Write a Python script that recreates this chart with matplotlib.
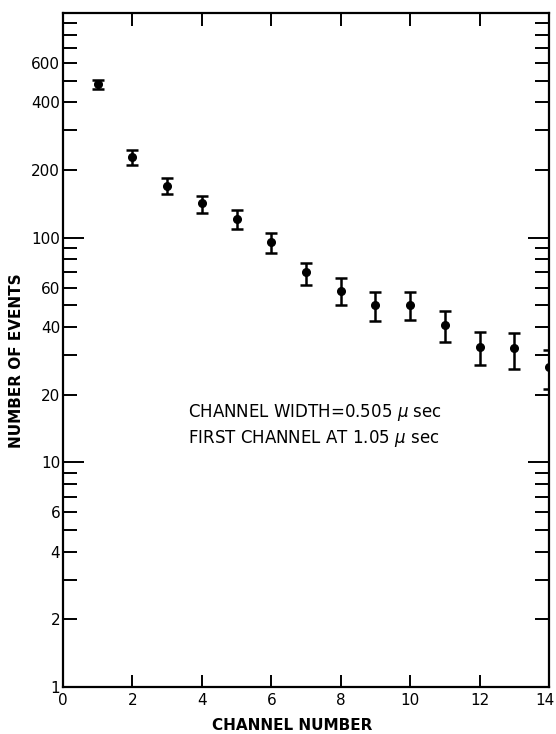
import numpy as np
import matplotlib
matplotlib.use("Agg")
import matplotlib.pyplot as plt
import matplotlib.transforms as mtransforms
from matplotlib.ticker import FixedLocator, FuncFormatter

# 数据：各通道的事件数及误差上下限
channel = [1, 2, 3, 4, 5, 6, 7, 8, 9, 10, 11, 12, 13, 14]
events = [483, 228, 170, 142, 121, 96, 70, 58, 50, 50.4, 40.7, 32.7, 32.2, 26.6]
err_hi = [503, 245, 185, 154, 133, 104.5, 76.8, 65.9, 57.1, 57.1, 47.1, 38.1, 37.5, 31.6]
err_lo = [460, 210, 156, 129, 109, 85.7, 61.5, 50.1, 42.6, 42.8, 34.4, 27.1, 25.9, 21.1]

x_ticks = [0, 2, 4, 6, 8, 10, 12, 14]
y_major = [1, 10, 100]
y_labelled = [2, 4, 6, 20, 40, 60, 200, 400, 600]

plt.rcParams['font.family'] = ['DejaVu Sans']

fig = plt.figure(figsize=(5.56, 7.34), dpi=100)
ax = fig.add_axes([63 / 556, 1 - 687 / 734, 486 / 556, 674 / 734])

ev = np.array(events)
yerr = [ev - np.array(err_lo), np.array(err_hi) - ev]
ax.errorbar(channel, events, yerr=yerr, fmt='o', color='black', ms=5.5,
            elinewidth=1.8, capsize=4, capthick=1.8)

ax.set_yscale('log')
ax.set_xlim(0, 14)
ax.set_ylim(1, 1000)

# 坐标轴刻度
ax.xaxis.set_major_locator(FixedLocator(x_ticks))
ax.set_xticklabels([str(t) for t in x_ticks])
ax.yaxis.set_major_locator(FixedLocator(y_major))
ax.yaxis.set_major_formatter(FuncFormatter(lambda v, p: '%d' % v))
minors = [m * d for d in (1, 10, 100) for m in range(2, 10)]
ax.yaxis.set_minor_locator(FixedLocator(minors))
ax.yaxis.set_minor_formatter(FuncFormatter(
    lambda v, p: '%d' % round(v) if round(v) in y_labelled else ''))

ax.tick_params(axis='x', which='both', direction='in', top=True, length=9,
               width=1.4, labelsize=11, pad=4)
ax.tick_params(axis='y', which='major', direction='in', right=True, length=15,
               width=1.4, labelsize=11, pad=2)
ax.tick_params(axis='y', which='minor', direction='in', right=True, length=10,
               width=1.4, labelsize=11, pad=2)

# 最右边的 "14" 稍微左移，避免被裁掉
lab = ax.get_xticklabels()[-1]
lab.set_transform(lab.get_transform() +
                  mtransforms.ScaledTranslation(-4 / 100, 0, fig.dpi_scale_trans))

for s in ax.spines.values():
    s.set_linewidth(1.6)

ax.set_xlabel('CHANNEL NUMBER', fontsize=11, fontweight='bold', va='center')
ax.xaxis.set_label_coords(0.471, -0.0565)
ax.set_ylabel('NUMBER OF EVENTS', fontsize=11, fontweight='bold',
              va='center', ha='center')
ax.yaxis.set_label_coords(-0.0947, 0.484)

ax.text(0.257, 0.408, 'CHANNEL WIDTH=0.505 $\\mu$ sec', transform=ax.transAxes,
        fontsize=12, va='center', ha='left')
ax.text(0.257, 0.369, 'FIRST CHANNEL AT 1.05 $\\mu$ sec', transform=ax.transAxes,
        fontsize=12, va='center', ha='left')

fig.savefig('out.png', dpi=100)
